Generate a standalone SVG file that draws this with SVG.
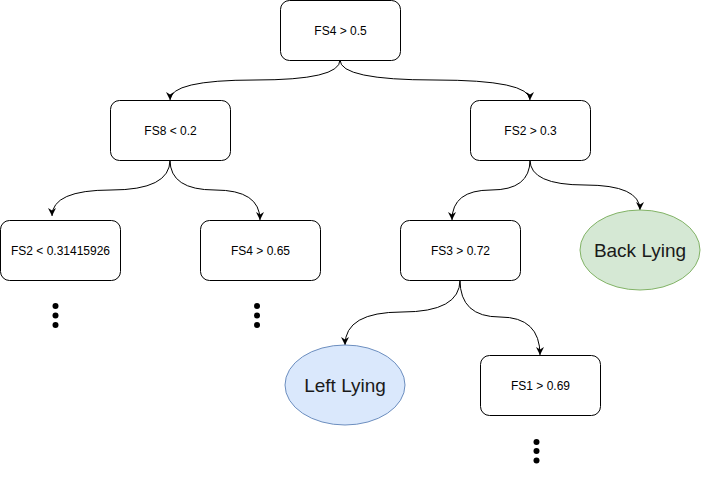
<svg xmlns="http://www.w3.org/2000/svg" width="701" height="481" viewBox="0 0 701 481">
<style>
.box{fill:#ffffff;stroke:#000000;stroke-width:1}
.lbl{font-family:"Liberation Sans",Arial,sans-serif;font-size:12px;fill:#000000;text-anchor:middle;dominant-baseline:central}
.big{font-family:"Liberation Sans",Arial,sans-serif;font-size:19px;fill:#1a1a1a;text-anchor:middle;dominant-baseline:central}
.edge{fill:none;stroke:#000000;stroke-width:1}
.dot{fill:#000000}
</style>
<defs>
<marker id="arr" markerUnits="userSpaceOnUse" viewBox="0 0 10 10" refX="10" refY="5" markerWidth="9" markerHeight="8" orient="auto">
<path d="M0,0 L10,5 L0,10 L3,5 z" fill="#000000"/>
</marker>
</defs>
<rect width="701" height="481" fill="#ffffff"/>
<g id="connectors">
<path class="edge" marker-end="url(#arr)" d="M340,60 Q340,80 255,80 Q170,80 170,100"/>
<path class="edge" marker-end="url(#arr)" d="M340,60 Q340,80 435,80 Q530,80 530,100"/>
<path class="edge" marker-end="url(#arr)" d="M170,160 Q170,190 111,190 Q52,190 52,216"/>
<path class="edge" marker-end="url(#arr)" d="M170,160 Q170,190 215,190 Q260,190 260,220"/>
<path class="edge" marker-end="url(#arr)" d="M530,160 Q530,190 491,190 Q452,190 452,220"/>
<path class="edge" marker-end="url(#arr)" d="M530,160 Q530,185 585,185 Q640,185 640,210"/>
<path class="edge" marker-end="url(#arr)" d="M460,280 Q460,312 402,312 Q345,312 345,345"/>
<path class="edge" marker-end="url(#arr)" d="M460,280 Q460,317 500,317 Q540,317 540,355"/>
</g>
<g id="n-root"><rect class="box" x="280.5" y="0.5" width="120" height="60" rx="9"/><text class="lbl" x="340.5" y="30.5">FS4 &gt; 0.5</text></g>
<g id="n-fs8"><rect class="box" x="110.5" y="100.5" width="120" height="60" rx="9"/><text class="lbl" x="170.5" y="130.5">FS8 &lt; 0.2</text></g>
<g id="n-fs2b"><rect class="box" x="470.5" y="100.5" width="120" height="60" rx="9"/><text class="lbl" x="530.5" y="130.5">FS2 &gt; 0.3</text></g>
<g id="n-fs2a"><rect class="box" x="0.5" y="220.5" width="120" height="60" rx="9"/><text class="lbl" x="60.5" y="250.5">FS2 &lt; 0.31415926</text></g>
<g id="n-fs4b"><rect class="box" x="200.5" y="220.5" width="120" height="60" rx="9"/><text class="lbl" x="260.5" y="250.5">FS4 &gt; 0.65</text></g>
<g id="n-fs3"><rect class="box" x="400.5" y="220.5" width="120" height="60" rx="9"/><text class="lbl" x="460.5" y="250.5">FS3 &gt; 0.72</text></g>
<g id="n-back"><ellipse cx="640" cy="250" rx="60" ry="40" fill="#d5e8d4" stroke="#82b366"/><text class="big" x="640" y="250">Back Lying</text></g>
<g id="n-left"><ellipse cx="345" cy="385" rx="60" ry="40" fill="#dae8fc" stroke="#6c8ebf"/><text class="big" x="345" y="385">Left Lying</text></g>
<g id="n-fs1"><rect class="box" x="480.5" y="355.5" width="120" height="60" rx="9"/><text class="lbl" x="540.5" y="385.5">FS1 &gt; 0.69</text></g>
<g id="dots1"><circle class="dot" cx="55.5" cy="306" r="3"/><circle class="dot" cx="55.5" cy="315.5" r="3"/><circle class="dot" cx="55.5" cy="325" r="3"/></g>
<g id="dots2"><circle class="dot" cx="257" cy="306" r="3"/><circle class="dot" cx="257" cy="315.5" r="3"/><circle class="dot" cx="257" cy="325" r="3"/></g>
<g id="dots3"><circle class="dot" cx="536.5" cy="442" r="3"/><circle class="dot" cx="536.5" cy="451" r="3"/><circle class="dot" cx="536.5" cy="460.5" r="3"/></g>
</svg>
